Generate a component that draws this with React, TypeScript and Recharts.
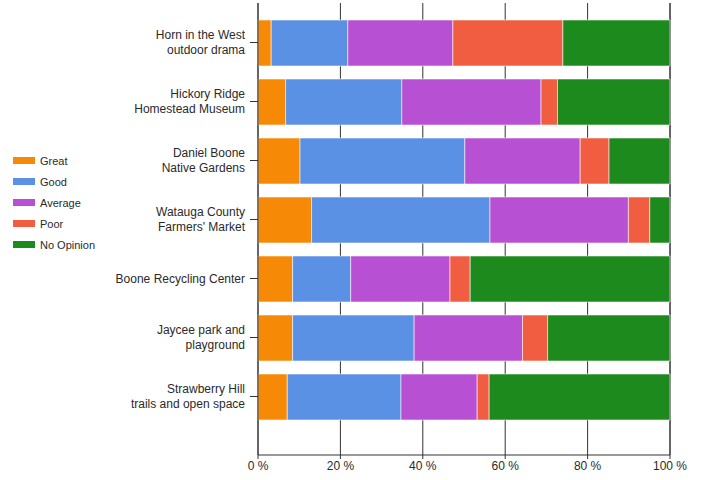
import React from 'react';
import { BarChart, Bar, XAxis, YAxis, CartesianGrid } from 'recharts';

const PLACES = [
  'Horn in the West\noutdoor drama',
  'Hickory Ridge\nHomestead Museum',
  'Daniel Boone\nNative Gardens',
  "Watauga County\nFarmers' Market",
  'Boone Recycling Center',
  'Jaycee park and\nplayground',
  'Strawberry Hill\ntrails and open space'
];

const GREAT = [3.2, 6.7, 10.2, 13.0, 8.4, 8.4, 7.1];
const GOOD = [18.6, 28.2, 40.0, 43.3, 14.1, 29.5, 27.6];
const AVERAGE = [25.5, 33.8, 28.0, 33.6, 24.1, 26.3, 18.5];
const POOR = [26.7, 4.0, 7.0, 5.2, 4.9, 6.1, 2.9];
const NO_OPINION = [26.0, 27.3, 14.8, 4.9, 48.5, 29.7, 43.9];

const X_TICKS = [0, 20, 40, 60, 80, 100];

const SERIES = [
  { key: 'great', label: 'Great', color: '#F68A06' },
  { key: 'good', label: 'Good', color: '#5B91E4' },
  { key: 'average', label: 'Average', color: '#B850D3' },
  { key: 'poor', label: 'Poor', color: '#F05D40' },
  { key: 'noOpinion', label: 'No Opinion', color: '#1D8A1D' }
];

const data = PLACES.map((name, i) => ({
  name,
  great: GREAT[i],
  good: GOOD[i],
  average: AVERAGE[i],
  poor: POOR[i],
  noOpinion: NO_OPINION[i]
}));

const FONT = 'Arial, "Liberation Sans", sans-serif';
const TEXT_COLOR = '#2a2a2a';
const LINE_COLOR = '#333';

const PlaceTick = (props: any) => {
  const { x, y, payload } = props;
  const lines = String(payload.value).split('\n');
  const lh = 15;
  const startY = y - ((lines.length - 1) * lh) / 2;
  return (
    <text x={x - 3} y={startY} textAnchor="end" fontSize={12} fill={TEXT_COLOR} fontFamily={FONT}>
      {lines.map((l, i) => (
        <tspan key={i} x={x - 3} y={startY + i * lh} dy="0.35em">{l}</tspan>
      ))}
    </text>
  );
};

export default function App() {
  return (
    <div style={{ position: 'absolute', left: 0, top: 0, width: 704, height: 480, background: '#fff', fontFamily: FONT }}>
      <BarChart
        width={704}
        height={480}
        data={data}
        layout="vertical"
        margin={{ top: 3, right: 34, bottom: 5, left: 0 }}
      >
        <CartesianGrid horizontal={false} vertical stroke={LINE_COLOR} strokeWidth={1} />
        <XAxis
          type="number"
          domain={[0, 100]}
          ticks={X_TICKS}
          height={20}
          tickSize={4}
          axisLine={{ stroke: LINE_COLOR }}
          tickLine={{ stroke: LINE_COLOR }}
          tick={{ fontSize: 12, fill: TEXT_COLOR, fontFamily: FONT }}
          tickFormatter={(v: number) => `${v} %`}
          interval={0}
        />
        <YAxis
          type="category"
          dataKey="name"
          width={258}
          tickSize={8}
          padding={{ top: 10, bottom: 29 }}
          axisLine={{ stroke: LINE_COLOR }}
          tickLine={{ stroke: LINE_COLOR }}
          tick={<PlaceTick />}
          interval={0}
        />
        {SERIES.map(s => (
          <Bar
            key={s.key}
            dataKey={s.key}
            stackId="a"
            fill={s.color}
            barSize={46}
            stroke="rgba(255,255,255,0.55)"
            strokeWidth={1}
            isAnimationActive={false}
          />
        ))}
      </BarChart>
      <div style={{ position: 'absolute', left: 13, top: 150 }}>
        {SERIES.map(s => (
          <div key={s.key} style={{ display: 'flex', alignItems: 'center', height: 21 }}>
            <span style={{ width: 22, height: 7, background: s.color, display: 'inline-block', marginRight: 5 }} />
            <span style={{ fontSize: 11, color: TEXT_COLOR }}>{s.label}</span>
          </div>
        ))}
      </div>
    </div>
  );
}
